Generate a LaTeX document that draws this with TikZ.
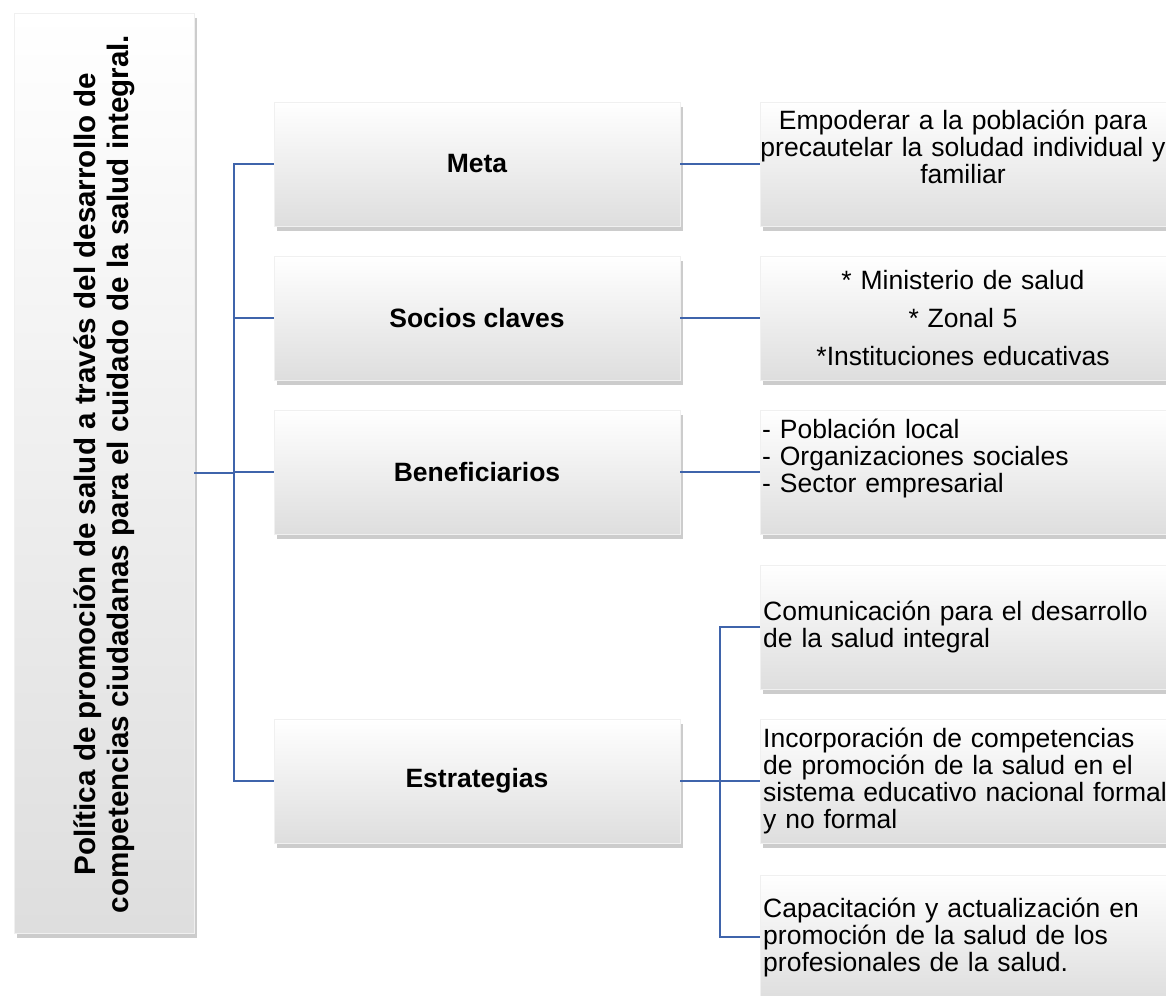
\documentclass[tikz,border=0pt]{standalone}
\usepackage{fontspec}
\setmainfont{Liberation Sans}
\usepackage{tikz}
\usetikzlibrary{shadows}
\usetikzlibrary{calc}
\definecolor{linecolor}{HTML}{3F64AB}

\begin{document}
\begin{tikzpicture}[x=1pt,y=-1pt,
  box/.style={top color=white, middle color=white!97!black, bottom color=black!13,
    draw=black!6, line width=0.4pt, inner sep=0pt,
    drop shadow={shadow xshift=3pt,shadow yshift=-5pt,opacity=0.4},
    minimum width=406pt, minimum height=124pt},
  headbox/.style={box, font=\fontsize{26.5}{30}\selectfont\bfseries},
  childbox/.style={box, anchor=west, text width=416pt, inner xsep=3pt, align=left,
    font=\fontsize{26.5}{27}\selectfont},
  childtext/.style={text width=440pt, inner sep=0pt,
    font=\fontsize{26.5}{27}\selectfont},
  conn/.style={color=linecolor, line width=2.6pt}]
\useasboundingbox (0,0) rectangle (1166,995);
%% root box with the rotated title
  \node[box, minimum width=180pt, minimum height=920pt] (politica) at (104,473) {};
  \node[rotate=90, align=center, inner sep=0pt, font=\fontsize{29.6}{33}\selectfont\bfseries]
    (politicatext) at (104,474)
    {Política de promoción de salud a través del desarrollo de\\
     competencias ciudadanas para el cuidado de la salud integral.};

%% first level
  \node[headbox] (meta) at (477,164) {Meta};
  \node[headbox] (socios) at (477,318) {Socios claves};
  \node[headbox] (benef) at (477,472) {Beneficiarios};
  \node[headbox] (estrat) at (477,781) {Estrategias};

%% second level
  \node[childbox] (metadet) at (760,164) {};
  \node[childtext, align=center] (metatext) at (963,147)
    {Empoderar a la población para\\precautelar la soludad individual y\\familiar};
  \node[childbox] (sociosdet) at (760,318) {};
  \node[childtext, align=center] (sociostext) at (963,318)
    {* Ministerio de salud\\[11pt]* Zonal 5\\[11pt]*Instituciones educativas};
  \node[childbox] (benefdet) at (760,472) {};
  \node[childtext, align=left, anchor=west] (beneftext) at (762,458)
    {- Población local\\- Organizaciones sociales\\- Sector empresarial};
  \node[childbox] (comunic) at (760,627)
    {Comunicación para el desarrollo\\de la salud integral};
  \node[childbox] (incorp) at (760,781)
    {Incorporación de competencias\\de promoción de la salud en el\\sistema educativo nacional formal\\y no formal};
  \node[childbox] (capacit) at (760,937)
    {Capacitación y actualización en\\promoción de la salud de los\\profesionales de la salud.};

%% connectors
  \coordinate (trunk) at (234,473);
  \coordinate (branch) at (720,781);
  \draw[conn] (politica.east) -- (trunk);
  \draw[conn] (meta.west) -| (trunk) |- (estrat.west);
  \draw[conn] (socios.west) -- (socios.west -| trunk);
  \draw[conn] (benef.west) -- (benef.west -| trunk);
  \draw[conn] (meta.east) -- (metadet.west);
  \draw[conn] (socios.east) -- (sociosdet.west);
  \draw[conn] (benef.east) -- (benefdet.west);
  \draw[conn] (estrat.east) -- (incorp.west);
  \draw[conn] (comunic.west) -| (branch) |- (capacit.west);
\end{tikzpicture}
\end{document}
